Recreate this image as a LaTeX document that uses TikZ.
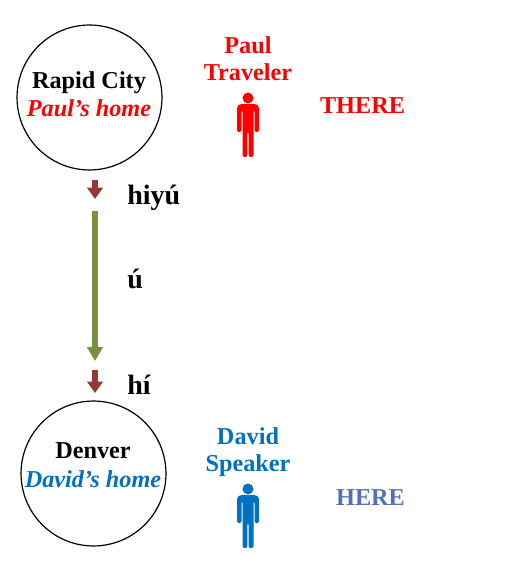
\documentclass[tikz,border=0pt]{standalone}
\usepackage{fontspec}
\setmainfont{Liberation Serif}
\usetikzlibrary{arrows.meta}
\definecolor{pred}{RGB}{255,0,0}
\definecolor{pblue}{RGB}{0,112,192}
\definecolor{hereblue}{RGB}{79,114,178}
\definecolor{arrred}{RGB}{149,55,53}
\definecolor{arrgreen}{RGB}{118,146,60}
\tikzset{
  x=0.75pt,y=-0.75pt,
  txt/.style={font=\fontsize{18.2pt}{20.25pt}\selectfont\bfseries,inner sep=0pt,align=center},
  lbl/.style={font=\fontsize{21pt}{24pt}\selectfont\bfseries,inner sep=0pt,anchor=base west},
  place/.style={circle,draw=black,line width=0.9pt,minimum size=108.7pt,inner sep=0pt},
  redarrow/.style={draw=arrred,line width=4.5pt,-{Triangle[length=8.5pt,width=11.5pt]}},
  greenarrow/.style={draw=arrgreen,line width=3.9pt,-{Triangle[length=10.5pt,width=11.5pt]}},
  pics/person/.style={code={
    \fill[#1] (0,-60) circle[radius=5.5];
    \fill[#1,rounded corners=1.5pt] (-11,-52) -- (-8,-54) -- (8,-54) -- (11,-52) -- (11,-26) -- (6.5,-26) -- (6.5,-48) -- (5.5,-48) -- (5.5,-1) -- (0.7,-1) -- (0.7,-26) -- (-0.7,-26) -- (-0.7,-1) -- (-5.5,-1) -- (-5.5,-48) -- (-6.5,-48) -- (-6.5,-26) -- (-11,-26) -- cycle;
  }}
}
\begin{document}
\begin{tikzpicture}
\useasboundingbox (0,0) rectangle (510,580);
\node[place] (rapid) at (89.5,97.5) {};
\node[txt] (rapidname) at (89,83) {Rapid City};
\node[txt,text=pred] (rapidhome) at (89,108) {\itshape Paul’s home};
\node[place] (denver) at (93.5,473.5) {};
\node[txt] (denvername) at (93,451) {Denver};
\node[txt,text=pblue] (denverhome) at (93,479) {\itshape David’s home};
\node[txt,text=pred] (paul) at (248,59) {Paul\\Traveler};
\node[txt,text=pblue] (david) at (248,452.5) {David\\Speaker};
\node[txt,text=pred] (there) at (362.5,106) {THERE};
\node[txt,text=hereblue] (here) at (370.5,498) {HERE};
\node[lbl] (hiyu) at (127,205) {hiyú};
\node[lbl] (u) at (127,288) {ú};
\node[lbl] (hi) at (127,394) {hí};
\coordinate (a1) at (95,180); \coordinate (a2) at (95,199);
\coordinate (b1) at (95,211); \coordinate (b2) at (95,361);
\coordinate (c1) at (95,370); \coordinate (c2) at (95,393);
\draw[redarrow] (a1) -- (a2);
\draw[greenarrow] (b1) -- (b2);
\draw[redarrow] (c1) -- (c2);
\pic at (248,158) {person=pred};
\pic at (248,549) {person=pblue};
\end{tikzpicture}
\end{document}
